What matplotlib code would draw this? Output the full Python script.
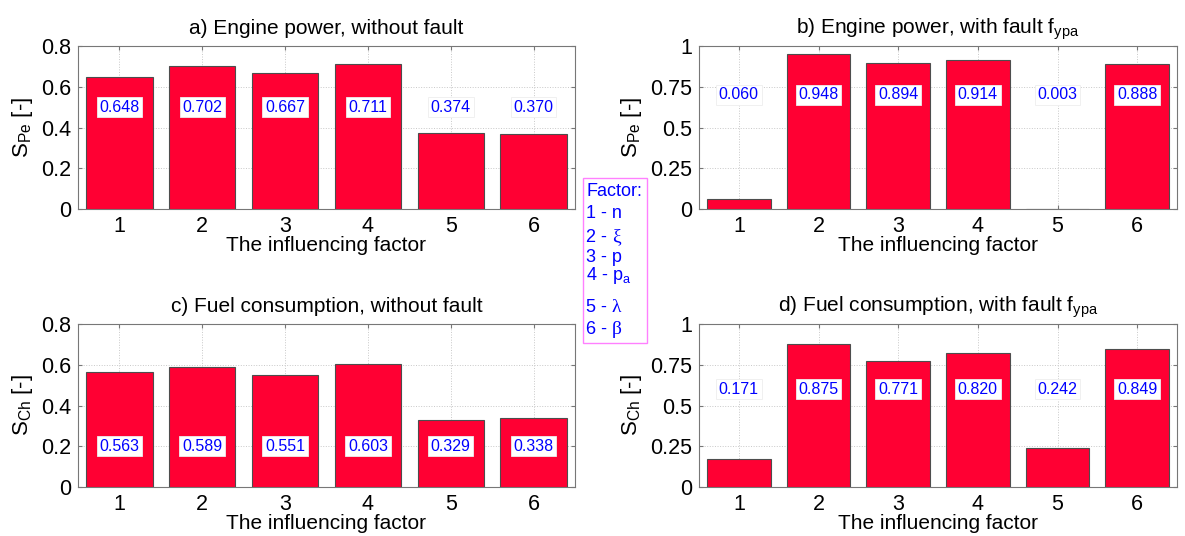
import matplotlib
matplotlib.use("Agg")
import matplotlib.pyplot as plt
from matplotlib.patches import Rectangle
import numpy as np

plt.rcParams["font.family"] = ["Liberation Sans", "DejaVu Sans"]
plt.rcParams["mathtext.fontset"] = "custom"
plt.rcParams["mathtext.rm"] = "Liberation Sans"
plt.rcParams["mathtext.it"] = "Liberation Sans:italic"
plt.rcParams["mathtext.bf"] = "Liberation Sans:bold"

factors = [1, 2, 3, 4, 5, 6]
power_no_fault = [0.648, 0.702, 0.667, 0.711, 0.374, 0.370]
power_fault = [0.060, 0.948, 0.894, 0.914, 0.003, 0.888]
fuel_no_fault = [0.563, 0.589, 0.551, 0.603, 0.329, 0.338]
fuel_fault = [0.171, 0.875, 0.771, 0.820, 0.242, 0.849]

legend_title = "Factor:"
legend_prefix = ["1 - n", "2 - ", "3 - p", "4 - p$_\\mathrm{a}$", "5 - ", "6 - "]
legend_greek = ["", "\u03be", "", "", "\u03bb", "\u03b2"]

BAR_COLOR = "#ff0033"
TEXT_BLUE = "#0000ff"
W, H = 1185, 536


def rect(left, right, top, bottom):
    return [left / W, 1 - bottom / H, (right - left) / W, (bottom - top) / H]


def plot_panel(ax, values, title, ylabel, ymax, yticks, yticklabels, label_y):
    x = np.array(factors)
    ax.bar(x, values, width=0.8, color=BAR_COLOR, edgecolor="#4d4d4d",
           linewidth=0.8, zorder=3)
    for xi, v in zip(x, values):
        ax.text(xi, label_y, f"{v:.3f}", ha="center", va="center",
                color=TEXT_BLUE, fontsize=11.5, zorder=4,
                bbox=dict(facecolor="white", edgecolor="#eeeeee",
                          linewidth=0.6, pad=2.0))
    ax.set_xlim(0.5, 6.5)
    ax.set_ylim(0, ymax)
    ax.set_xticks(x)
    ax.set_yticks(yticks)
    ax.set_yticklabels(yticklabels)
    ax.tick_params(direction="in", length=3, labelsize=15.5, top=True,
                   right=True, color="#777777", pad=5)
    ax.grid(True, linestyle=":", color="#c8c8c8", linewidth=0.7, zorder=0)
    for s in ax.spines.values():
        s.set_color("#777777")
        s.set_linewidth(0.8)
    ax.set_title(title, fontsize=15, pad=9)
    ax.set_xlabel("The influencing factor", fontsize=15, labelpad=-1)
    ax.set_ylabel(ylabel, fontsize=16, labelpad=4)


fig = plt.figure(figsize=(11.85, 5.36), dpi=100)

ax_a = fig.add_axes(rect(78, 575, 46, 209))
ax_b = fig.add_axes(rect(699, 1177, 46, 209))
ax_c = fig.add_axes(rect(78, 575, 324, 487))
ax_d = fig.add_axes(rect(699, 1177, 324, 487))

t08 = [0, 0.2, 0.4, 0.6, 0.8]
t08l = ["0", "0.2", "0.4", "0.6", "0.8"]
t1 = [0, 0.25, 0.5, 0.75, 1]
t1l = ["0", "0.25", "0.5", "0.75", "1"]

plot_panel(ax_a, power_no_fault, "a) Engine power, without fault",
           "S$_\\mathrm{Pe}$ [-]", 0.8, t08, t08l, 0.5)
plot_panel(ax_b, power_fault, "b) Engine power, with fault f$_\\mathrm{ypa}$",
           "S$_\\mathrm{Pe}$ [-]", 1.0, t1, t1l, 0.7)
plot_panel(ax_c, fuel_no_fault, "c) Fuel consumption, without fault",
           "S$_\\mathrm{Ch}$ [-]", 0.8, t08, t08l, 0.2)
plot_panel(ax_d, fuel_fault, "d) Fuel consumption, with fault f$_\\mathrm{ypa}$",
           "S$_\\mathrm{Ch}$ [-]", 1.0, t1, t1l, 0.6)

# legend box in the middle
fig.patches.append(Rectangle((583 / W, 1 - 343 / H), 64 / W, 165 / H,
                             transform=fig.transFigure, fill=False,
                             edgecolor="#ff80ff", linewidth=1.0))
fig.text(586 / W, 1 - 192 / H, legend_title, color=TEXT_BLUE, fontsize=13,
         va="center")
line_y = [213, 237, 258, 276, 307, 330]
for yy, pre, gr in zip(line_y, legend_prefix, legend_greek):
    fig.text(586 / W, 1 - yy / H, pre, color=TEXT_BLUE, fontsize=13,
             va="center")
    if gr:
        fig.text(612 / W, 1 - yy / H, gr, color=TEXT_BLUE, fontsize=14,
                 va="center", family="Liberation Serif")

fig.savefig("out.png", dpi=100)
